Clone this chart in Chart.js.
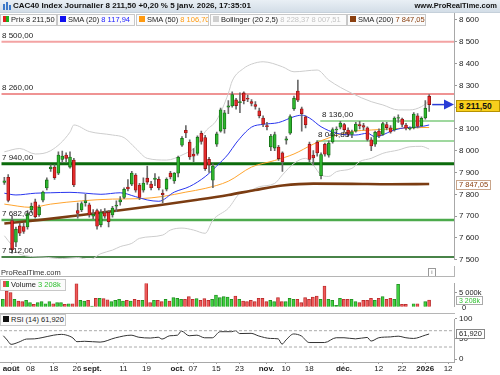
<!DOCTYPE html>
<html><head><meta charset="utf-8">
<script src="https://cdn.jsdelivr.net/npm/chart.js@4.4.1/dist/chart.umd.min.js"></script>
<style>
body{margin:0;width:500px;height:375px;overflow:hidden;background:#fff;font-family:"Liberation Sans",Arial,sans-serif;position:relative}
canvas{position:absolute;left:0}
.t{position:absolute;font-size:8px;color:#222;white-space:nowrap;line-height:10px}
#hdr{position:absolute;left:0;top:0;width:500px;height:12px;background:linear-gradient(#e9eff5,#d3dde7);border-bottom:1px solid #c5d0da}
#hdr .l{position:absolute;left:13px;top:0;font-weight:bold;font-size:8px;line-height:12px;color:#111}
#hdr .r{position:absolute;right:3px;top:0;font-weight:bold;font-size:7.5px;line-height:12px;color:#111}
.lg{position:absolute;top:14px;height:10px;border:1px solid #c8c8c8;background:#fbfbfb;font-size:7.5px;line-height:10px;color:#222;padding:0 0 0 2px;white-space:nowrap;overflow:hidden;box-sizing:content-box}
.sq{display:inline-block;width:6px;height:6px;margin-right:2px;vertical-align:0px}
.box{position:absolute;left:456px;white-space:nowrap;border:1px solid #999;background:#fff;padding:0 2px}
.sep{position:absolute;background:#b5b5b5}
</style></head><body>
<canvas id="cMain" width="500" height="266" style="top:0"></canvas>
<canvas id="cVol" width="500" height="36" style="top:277px"></canvas>
<canvas id="cRsi" width="500" height="62" style="top:313px"></canvas>

<div id="hdr"><div class="l">CAC40 Index Journalier 8 211,50 +0,20 % 5 janv. 2026, 17:35:01</div><div class="r">www.ProRealTime.com</div>
<div style="position:absolute;left:3px;top:4px;width:2px;height:6px;background:#3b78c8"></div><div style="position:absolute;left:6px;top:2px;width:2px;height:8px;background:#3b78c8"></div><div style="position:absolute;left:9px;top:5px;width:2px;height:5px;background:#3b78c8"></div></div>

<div class="lg" style="left:0;width:53px"><span class="sq" style="background:linear-gradient(90deg,#e02020 50%,#20b020 50%)"></span>Prix 8 211,50</div>
<div class="lg" style="left:57px;width:74px"><span class="sq" style="background:#1010f0"></span>SMA (20) <span style="color:#2020ff">8 117,94</span></div>
<div class="lg" style="left:136px;width:69px"><span class="sq" style="background:#ff9a10"></span>SMA (50) <span style="color:#ff9a10">8 106,70</span></div>
<div class="lg" style="left:210px;width:133px"><span class="sq" style="background:#cfcfcf"></span>Bollinger (20 2,5) <span style="color:#c4c4c4">8 228,37 8 007,51</span></div>
<div class="lg" style="left:347px;width:75px"><span class="sq" style="background:#8b4010"></span>SMA (200) <span style="color:#8b4010">7 847,05</span></div>

<div class="t" style="left:1px;top:268px;font-size:7.5px;color:#333">ProRealTime.com</div>
<div style="position:absolute;left:428px;top:268px;width:6px;height:7px;border:1px solid #999;font-size:6px;line-height:7px;text-align:center;color:#666">i</div>
<div class="sep" style="left:0;top:276px;width:455px;height:1px"></div>
<div class="sep" style="left:0;top:313px;width:455px;height:1px"></div>
<div class="sep" style="left:454px;top:266px;width:1px;height:11px"></div>
<div class="lg" style="left:0;top:279px;width:62px"><span class="sq" style="background:linear-gradient(90deg,#e05050 50%,#30c030 50%)"></span>Volume <span style="color:#30c030">3 208k</span></div>
<div class="lg" style="left:0;top:314px;width:62px"><span class="sq" style="background:#111"></span>RSI (14) 61,920</div>
<div id="ov"></div>

<script>
// ---------- DATA ----------
const dates = ['07-30','07-31','08-01','08-04','08-05','08-06','08-07','08-08','08-11','08-12','08-13','08-14','08-15','08-18','08-19','08-20','08-21','08-22','08-25','08-26','08-27','08-28','08-29',
'09-01','09-02','09-03','09-04','09-05','09-08','09-09','09-10','09-11','09-12','09-15','09-16','09-17','09-18','09-19','09-22','09-23','09-24','09-25','09-26','09-29','09-30',
'10-01','10-02','10-03','10-06','10-07','10-08','10-09','10-10','10-13','10-14','10-15','10-16','10-17','10-20','10-21','10-22','10-23','10-24','10-27','10-28','10-29','10-30','10-31',
'11-03','11-04','11-05','11-06','11-07','11-10','11-11','11-12','11-13','11-14','11-17','11-18','11-19','11-20','11-21','11-24','11-25','11-26','11-27','11-28',
'12-01','12-02','12-03','12-04','12-05','12-08','12-09','12-10','12-11','12-12','12-15','12-16','12-17','12-18','12-19','12-22','12-23','12-24','12-29','12-30','12-31','01-02','01-05'];

const open  = [7855,7878,7680,7580,7655,7652,7650,7728,7765,7705,7773,7829,7918,7925,7897,7960,7980,7925,7957,7725,7728,7762,7752,
7700,7725,7660,7715,7718,7705,7745,7765,7786,7833,7847,7888,7842,7819,7874,7847,7868,7869,7805,7824,7897,7861,
7897,8025,8094,8039,7985,7988,8080,8060,7960,7865,8030,8090,8100,8200,8205,8233,8220,8265,8240,8225,8212,8183,8150,
8115,8017,8012,8017,7990,8048,8080,8192,8274,8192,8155,8030,7980,8039,7885,8030,7980,8040,8095,8108,
8120,8095,8075,8090,8120,8115,8105,8050,8030,8090,8075,8120,8105,8095,8150,8145,8118,8100,8105,8160,8115,8150,8250];
const high  = [7878,7890,7700,7650,7668,7668,7725,7760,7778,7750,7815,7875,7935,7935,7995,7998,7990,7995,7965,7760,7765,7800,7760,
7730,7732,7730,7735,7725,7745,7770,7790,7830,7868,7905,7895,7850,7875,7930,7860,7895,7880,7820,7875,7905,7900,
7975,8065,8115,8050,8010,8068,8090,8070,7970,7940,8085,8195,8185,8230,8270,8240,8265,8270,8255,8235,8225,8195,8160,
8130,8075,8085,8025,7995,8065,8165,8250,8324,8200,8160,8040,8000,8045,7990,8035,8045,8105,8110,8135,
8125,8105,8095,8130,8135,8125,8110,8060,8090,8100,8130,8130,8115,8155,8165,8150,8125,8110,8175,8170,8155,8230,8258];
const low   = [7845,7765,7530,7560,7610,7620,7640,7715,7690,7698,7765,7820,7905,7868,7890,7945,7950,7920,7835,7690,7720,7745,7695,
7688,7640,7650,7690,7650,7695,7720,7750,7780,7815,7840,7810,7775,7810,7845,7820,7840,7820,7760,7815,7870,7850,
7880,8020,8060,7960,7950,7980,8030,7910,7900,7830,8020,8085,8080,8170,8200,8190,8175,8215,8225,8205,8190,8150,8110,
8095,8000,8000,7955,7905,8030,8075,8185,8225,8090,8105,7950,7935,7975,7870,7975,7970,8035,8085,8100,
8085,8065,8060,8085,8100,8095,8045,8000,8020,8060,8070,8095,8080,8090,8130,8110,8095,8095,8100,8105,8110,8145,8180];
const close = [7862,7772,7546,7640,7622,7630,7712,7745,7697,7740,7810,7866,7925,7876,7980,7975,7965,7971,7843,7712,7758,7770,7705,
7708,7654,7719,7700,7674,7737,7750,7775,7823,7825,7897,7819,7786,7852,7856,7830,7874,7829,7798,7869,7880,7897,
7970,8057,8081,7971,7975,8062,8043,7918,7934,7930,8077,8188,8174,8206,8258,8207,8225,8230,8236,8217,8203,8160,8122,
8110,8067,8074,7964,7950,8055,8156,8241,8232,8170,8119,7960,7967,7990,7982,7984,8035,8097,8099,8127,
8097,8075,8087,8122,8114,8108,8052,8022,8085,8068,8124,8106,8086,8150,8151,8121,8103,8104,8168,8111,8149,8195,8211.5];
const volume = [3370,5470,5050,3370,2950,2780,3115,2530,2100,2530,2780,2270,2780,2270,2530,2530,2100,2270,2270,7325,3115,2950,3115,
1680,3620,3620,3535,3280,2780,3115,3370,2950,3115,2950,3370,3115,3115,8170,2530,3115,3115,2780,3370,2950,3790,
3620,3370,3370,4040,3370,3535,3115,3535,3115,3370,4460,3790,4040,3960,3370,4210,3370,2950,2780,3115,2780,3620,3620,
2780,3115,2780,3790,2780,2780,3620,3370,3370,2530,3790,3370,3960,4210,3370,6740,3370,3115,1850,3620,
3370,3370,3370,2780,2530,3115,3115,3620,3115,3620,4040,3370,3620,3400,7160,2100,2100,590,2270,2270,1095,2780,3208];

const sma20Idx = [0,3,8,12,17,21,25,30,34,37,40,44,48,52,55,58,60,64,67,71,75,77,79,82,86,91,94,96,101,104,107,110];
const sma20    = [7805,7797,7805,7807,7809,7805,7800,7807,7789,7774,7768,7810,7836,7881,7930,7985,8035,8108,8121,8129,8156,8163,8150,8110,8080,8072,8080,8064,8095,8106,8108,8117.94];
const sma50Idx = [0,7,12,20,28,35,41,47,52,58,64,70,75,80,85,90,95,100,105,110];
const sma50    = [7755,7740,7755,7770,7778,7780,7790,7810,7827,7860,7925,7955,7985,8030,8065,8088,8095,8100,8105,8106.70];
const sma200Idx = [0,10,20,30,40,50,58,65,72,80,90,100,110];
const sma200    = [7666,7684,7705,7727,7750,7775,7797,7820,7840,7849,7848,7846,7847.05];
const bollUpIdx = [0,4,8,12,17,18,22,28,31,34,37,42,46,50,52,55,58,59,62,64,67,72,75,81,84,90,95,98,102,105,108,110];
const bollUp    = [7995,8010,7985,8000,8085,8118,8088,8072,8060,8011,7965,7957,7980,8026,8087,8141,8263,8320,8378,8397,8408,8385,8362,8370,8324,8263,8225,8210,8187,8187,8202,8228.37];
const bollLoIdx = [0,2,4,10,15,19,22,25,28,30,33,35,41,43,46,49,52,54,58,61,64,66,70,72,75,78,80,82,84,86,90,92,95,98,102,105,108,110];
const bollLo    = [7610,7565,7525,7512,7505,7510,7499,7528,7544,7560,7575,7598,7613,7636,7645,7636,7621,7682,7736,7805,7820,7835,7850,7889,7942,7965,7934,7889,7882,7904,7919,7950,7965,7988,8003,8018,8020,8007.51];
const rsiIdx = [0,1,2,4,6,8,10,13,15,17,18,19,21,25,29,33,35,38,40,41,43,45,46,48,50,52,54,56,59,60,61,64,66,69,71,72,73,75,77,79,83,86,88,91,94,95,97,100,102,104,106,109,110];
const rsi    = [57.6,47,36.5,42,49.5,50,53,59,61,57,52,43,44,42,52.6,59,54,52,54,49.5,57.6,59,69,57.6,59,52.6,52.6,67.6,67.6,70,63,63.5,57,51,50,37,47,62,57,41,41,52.7,52.7,50,53.5,44.6,52.7,54.8,56.5,52.7,51,59,61.92];
const levelValues = [8500, 8260, 8136, 8044.85, 7940, 7682, 7512];
const levelLabels = ['8 500,00','8 260,00','8 136,00','8 044,85','7 940,00','7 682,00','7 512,00'];
const priceTicks = [7500,7600,7700,7800,7900,8000,8100,8200,8300,8400,8500,8600];
const xTickIdx = [2,7,13,19,23,31,37,45,49,55,61,68,73,79,88,97,103,109,114.9];
const xTickLab = ['août','08','18','26','sept.','11','19','oct.','07','15','23','nov.','10','18','déc.','12','22','2026','12'];
const xTickBold = [1,0,0,0,1,0,0,1,0,0,0,1,0,0,1,0,0,1,0];
const lastPrice = 8211.5, lastSma200 = 7847.05, lastVol = 3208, lastRsi = 61.92;

// ---------- HELPERS ----------
const PX0 = 2.85, PXSTEP = 3.875;   // page x of bar 0, spacing per bar
const FONT = 'Liberation Sans';
const fmt = (v)=>String(v).replace(/\B(?=(\d{3})+(?!\d))/g,' ');
const pts = (idx, vals)=>idx.map((x,k)=>({x, y:vals[k]}));
const up = i => close[i] >= open[i];
const GREEN='#2db52d', GREEN_D='#146c14', RED='#e52a2a', RED_D='#8e1212';
const forceW = s => { s.width = 46; };
const XMIN0 = -0.7355, XMAX0 = 116.42;
const lineDs = (data, color, w, order)=>({type:'line', data, borderColor:color, borderWidth:w, pointRadius:0, tension:0.35, cubicInterpolationMode:'monotone', order, fill:false});

const levelStyle = [
  {c:'#f3a3a3', w:2, from:-5},
  {c:'#e02828', w:1.2, from:-5},
  {c:'#9fd89f', w:2, from:81.8},
  {c:'#9fd89f', w:2, from:80.8},
  {c:'#0b6b0b', w:3, from:-5},
  {c:'#4caa4c', w:2.5, from:-5},
  {c:'#0b5a0b', w:1.5, from:-5}
];
const levelDs = levelValues.map((v,k)=>({type:'line', data:[{x:levelStyle[k].from,y:v},{x:125,y:v}], borderColor:levelStyle[k].c, borderWidth:levelStyle[k].w, pointRadius:0, order:20}));

const wicks = close.map((c,i)=>({x:i, y:[low[i], high[i]]}));
const bodies = close.map((c,i)=>{ let a=Math.min(open[i],c), b=Math.max(open[i],c); if(b-a<3){const m=(a+b)/2; a=m-1.5; b=m+1.5;} return {x:i, y:[a,b]}; });

const arrowPlugin = {
  id:'arrow',
  afterDatasetsDraw(chart){
    const ctx = chart.ctx, y = chart.scales.y.getPixelForValue(lastPrice);
    const x0 = chart.scales.x.getPixelForValue(close.length-1)+3;
    const xr = chart.chartArea.right;
    ctx.save(); ctx.strokeStyle='#2a3cd6'; ctx.fillStyle='#2a3cd6'; ctx.lineWidth=1.5;
    ctx.beginPath(); ctx.moveTo(x0,y); ctx.lineTo(xr-8,y); ctx.stroke();
    ctx.beginPath(); ctx.moveTo(xr-10,y-5); ctx.lineTo(xr,y); ctx.lineTo(xr-10,y+5); ctx.closePath(); ctx.fill();
    ctx.restore();
  }
};

const commonX = ()=>({type:'linear', min:XMIN0, max:XMAX0, display:false, offset:false});
const axisY = (extra)=>Object.assign({position:'right', afterFit:forceW,
  grid:{drawOnChartArea:false, tickLength:3, color:'#999'}, border:{display:true, color:'#a8a8a8'}}, extra);
const tickFont = {size:8,family:FONT};

// calibrate a chart so that values land on given page pixels
function calibrate(chart, canvasTop, v1, p1, v2, p2){
  const a = chart.chartArea;
  const k = (p2-p1)/(v2-v1);
  chart.options.scales.y.max = v1 + (canvasTop + a.top - p1)/k;
  chart.options.scales.y.min = v1 + (canvasTop + a.bottom - p1)/k;
  chart.options.scales.x.min = (a.left - PX0)/PXSTEP;
  chart.options.scales.x.max = (a.right - PX0)/PXSTEP;
  chart.update('none');
}

// ---------- MAIN ----------
const main = new Chart(document.getElementById('cMain'), {
  type:'bar',
  data:{datasets:[
    ...levelDs,
    lineDs(pts(bollUpIdx,bollUp), '#cdcdcd', 1, 15),
    lineDs(pts(bollLoIdx,bollLo), '#cdcdcd', 1, 15),
    lineDs(pts(sma200Idx,sma200), '#7b3c12', 2.6, 14),
    lineDs(pts(sma50Idx,sma50), '#ffa42e', 1, 13),
    lineDs(pts(sma20Idx,sma20), '#2a36ee', 1, 12),
    {type:'bar', data:wicks, grouped:false, barThickness:1, backgroundColor:'#6a6a6a', borderWidth:0, order:3},
    {type:'bar', data:bodies, grouped:false, barThickness:3,
     backgroundColor:c=>up(c.dataIndex)?GREEN:RED, borderColor:c=>up(c.dataIndex)?GREEN_D:RED_D, borderWidth:0.8, borderSkipped:false, order:2}
  ]},
  options:{responsive:false, animation:false, events:[],
    layout:{padding:{top:12,left:0,right:0,bottom:0}},
    plugins:{legend:{display:false}, tooltip:{enabled:false}},
    scales:{ x:commonX(),
      y:axisY({type:'linear', min:7471.1, max:8636.2,
        afterBuildTicks:s=>{s.ticks=priceTicks.map(v=>({value:v}));},
        ticks:{font:tickFont, color:'#222', padding:2, callback:v=>fmt(v)}})
    }},
  plugins:[arrowPlugin]
});
calibrate(main, 0, 7500, 259.7, 8600, 19.9);

// ---------- VOLUME ----------
const vol = new Chart(document.getElementById('cVol'), {
  type:'bar',
  data:{datasets:[{data:volume.map((v,i)=>({x:i,y:v})), barThickness:3, grouped:false,
    backgroundColor:c=>up(c.dataIndex)?'#3fd03f':'#ee5a5a', borderColor:c=>up(c.dataIndex)?'#1c8a1c':'#b52525', borderWidth:0.8, borderSkipped:false}]},
  options:{responsive:false, animation:false, events:[],
    layout:{padding:0},
    plugins:{legend:{display:false}, tooltip:{enabled:false}},
    scales:{x:commonX(),
      y:axisY({min:0, max:9091, afterBuildTicks:s=>{s.ticks=[{value:5000}];},
        ticks:{font:{size:7.5,family:FONT}, color:'#222', padding:2, callback:v=>fmt(v)+'k'}})}}
});
calibrate(vol, 277, 0, 312.7, 5000, 292.9);

// ---------- RSI ----------
const rsiChart = new Chart(document.getElementById('cRsi'), {
  type:'line',
  data:{datasets:[
    {data:[{x:-5,y:70},{x:125,y:70}], borderColor:'#aaa', borderWidth:1, borderDash:[3,2], pointRadius:0},
    {data:[{x:-5,y:30},{x:125,y:30}], borderColor:'#aaa', borderWidth:1, borderDash:[3,2], pointRadius:0},
    {data:pts(rsiIdx,rsi), borderColor:'#333', borderWidth:1, pointRadius:0, tension:0.3, cubicInterpolationMode:'monotone'}
  ]},
  options:{responsive:false, animation:false, events:[],
    layout:{padding:0},
    plugins:{legend:{display:false}, tooltip:{enabled:false}},
    scales:{
      x:{type:'linear', min:XMIN0, max:XMAX0, offset:false, afterFit:s=>{s.height=13;},
        afterBuildTicks:s=>{s.ticks=xTickIdx.map(v=>({value:v}));},
        ticks:{autoSkip:false, maxRotation:0, padding:0, color:'#222',
          font:c=>({size:8, family:FONT, weight: (c.index!==undefined && xTickBold[c.index])?'bold':'normal'}),
          callback:(v,i)=>xTickLab[i]},
        grid:{drawOnChartArea:false, tickLength:2, color:'#999'}, border:{display:true,color:'#a8a8a8'}},
      y:axisY({min:-6.9, max:113.5, afterBuildTicks:s=>{s.ticks=[0,50,100].map(v=>({value:v}));},
        ticks:{font:tickFont, color:'#222', padding:2, callback:v=>String(v)}})
    }}
});
calibrate(rsiChart, 313, 30, 347, 70, 330.7);

// ---------- OVERLAY LABELS ----------
const ov = document.getElementById('ov');
function addDiv(cls, style, html){ const d=document.createElement('div'); d.className=cls; d.setAttribute('style',style); d.innerHTML=html; ov.appendChild(d); return d; }
const ys = main.scales.y;
const levelLabelX = [2,2,322,318,2,2,2];
levelValues.forEach((v,k)=>{ addDiv('t', `left:${levelLabelX[k]}px;top:${Math.round(ys.getPixelForValue(v)-11)}px`, levelLabels[k]); });
const yP = ys.getPixelForValue(lastPrice);
addDiv('box', `top:${Math.round(yP-5)}px;height:10px;line-height:10px;background:#f8cf1c;border-color:#b79200;font-weight:bold;font-size:8.5px;color:#111;width:38px`, '8 211,50');
const yS = ys.getPixelForValue(lastSma200);
addDiv('box', `top:${Math.round(yS-4.5)}px;height:8px;line-height:8px;font-size:7.5px;border-color:#c9a58a;color:#8b4010;`, '7 847,05');
const yV = 277 + vol.scales.y.getPixelForValue(lastVol);
addDiv('box', `top:${Math.round(yV-4)}px;height:7px;line-height:7px;font-size:7px;border-color:#aaa;color:#2fbf2f;`, '3 208k');
addDiv('t', `left:462px;top:${Math.round(277+vol.scales.y.getPixelForValue(0)-10)}px;font-size:7.5px`, '0');
const yR = 313 + rsiChart.scales.y.getPixelForValue(lastRsi);
addDiv('box', `top:${Math.round(yR-4.5)}px;height:8px;line-height:8px;font-size:7.5px;border-color:#888;color:#222;`, '61,920');
</script>
</body></html>
